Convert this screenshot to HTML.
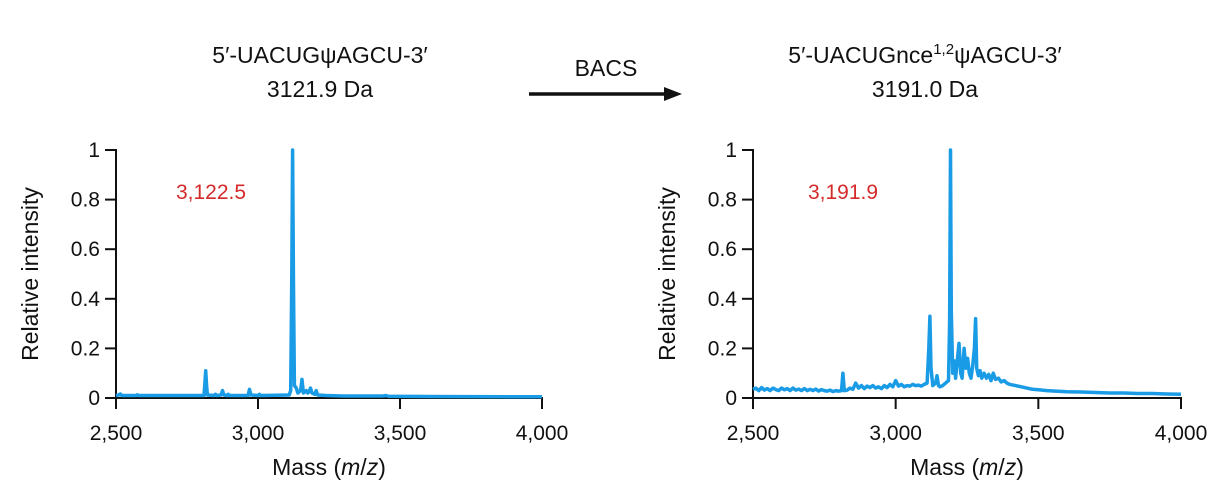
<!DOCTYPE html>
<html><head><meta charset="utf-8"><style>
body{margin:0;background:#fff;}
svg{display:block;font-family:"Liberation Sans",sans-serif;}
</style></head><body>
<svg id="fig" width="1229" height="498" viewBox="0 0 1229 498">
<g font-size="23" fill="#111" text-anchor="middle">
 <text x="320" y="63">5′-UACUGψAGCU-3′</text>
 <text x="320" y="97">3121.9 Da</text>
 <text x="606" y="76">BACS</text>
 <line x1="529" y1="94" x2="668" y2="94" stroke="#111" stroke-width="3.5"/>
 <polygon points="682,94 664,87 664,101" fill="#111"/>
 <text x="925" y="63">5′-UACUGnce<tspan font-size="15" dy="-9">1,2</tspan><tspan dy="9">ψAGCU-3′</tspan></text>
 <text x="925" y="97">3191.0 Da</text>
</g>
<g id="left"></g>
<g id="right"></g>
</svg>
<script>
const xTicks=[2500,3000,3500,4000];
const xTickLabels=["2,500","3,000","3,500","4,000"];
const yTicks=[0,0.2,0.4,0.6,0.8,1];
const yTickLabels=["0","0.2","0.4","0.6","0.8","1"];
const leftMz=[2500,2510,2515,2520,2570,2575,2580,2700,2810,2813,2816,2819,2822,2845,2850,2855,2870,2875,2880,2890,2895,2900,2965,2970,2975,3000,3005,3010,3110,3115,3119,3122,3125,3128,3135,3140,3150,3155,3160,3170,3175,3180,3185,3190,3200,3205,3210,3240,3300,3440,3450,3460,3600,4000];
const leftInt=[0.01,0.012,0.016,0.01,0.01,0.013,0.01,0.01,0.01,0.06,0.11,0.05,0.012,0.01,0.015,0.01,0.012,0.03,0.012,0.01,0.015,0.01,0.01,0.035,0.012,0.01,0.015,0.01,0.012,0.03,0.5,1.0,0.45,0.05,0.04,0.02,0.03,0.075,0.02,0.03,0.02,0.025,0.04,0.02,0.015,0.03,0.012,0.01,0.008,0.008,0.01,0.007,0.006,0.005];
const rightMz=[
 2500,2510,2520,2530,2540,2550,2560,2570,2580,2590,
 2600,2610,2620,2630,2640,2650,2660,2670,2680,2690,
 2700,2710,2720,2730,2740,2750,2760,2770,2780,2790,
 2800,2810,2815,2820,2830,2840,2850,2860,2870,2880,
 2890,2900,2910,2920,2930,2940,2950,2960,2970,2980,
 2990,3000,3010,3020,3030,3040,3050,3060,3070,3080,
 3090,3100,3110,3116,3120,3124,3130,3140,3145,3150,
 3155,3165,3175,3185,3189,3192,3195,3200,3205,3210,
 3215,3222,3228,3233,3240,3246,3252,3258,3264,3270,
 3276,3280,3284,3290,3296,3302,3310,3318,3326,3334,
 3342,3350,3360,3370,3380,3390,3400,3420,3440,3460,
 3480,3500,3530,3560,3600,3650,3700,3750,3800,3850,
 3900,3950,4000];
const rightInt=[
 0.035,0.04,0.03,0.042,0.032,0.038,0.03,0.04,0.034,0.03,
 0.04,0.033,0.038,0.03,0.04,0.032,0.036,0.03,0.038,0.03,
 0.035,0.03,0.036,0.028,0.034,0.03,0.028,0.032,0.026,0.03,
 0.028,0.03,0.1,0.03,0.032,0.04,0.035,0.06,0.04,0.05,
 0.038,0.048,0.042,0.05,0.04,0.045,0.038,0.05,0.042,0.055,
 0.045,0.07,0.048,0.055,0.045,0.05,0.048,0.055,0.05,0.052,
 0.048,0.055,0.06,0.2,0.33,0.12,0.05,0.06,0.09,0.05,
 0.045,0.05,0.06,0.07,0.3,1.0,0.35,0.1,0.15,0.08,
 0.14,0.22,0.1,0.08,0.2,0.12,0.16,0.1,0.08,0.13,
 0.2,0.32,0.12,0.09,0.11,0.08,0.1,0.08,0.095,0.07,
 0.1,0.075,0.08,0.065,0.07,0.06,0.055,0.05,0.045,0.04,
 0.035,0.033,0.03,0.028,0.025,0.024,0.022,0.02,0.02,0.018,
 0.018,0.016,0.015];
const NS="http://www.w3.org/2000/svg";
function mk(tag,attrs,parent){const e=document.createElementNS(NS,tag);for(const k in attrs)e.setAttribute(k,attrs[k]);parent.appendChild(e);return e;}
function chart(gid,x0,x1,mz,inten,label,labelX){
 const g=document.getElementById(gid);
 const y0=398,y1=150;
 const sx=v=>x0+(v-2500)/1500*(x1-x0);
 const sy=v=>y0-v*(y0-y1);
 let d=mz.map((m,i)=>(i?"L":"M")+sx(m).toFixed(1)+","+sy(inten[i]).toFixed(1)).join("");
 const ax=mk("path",{d:`M${x0-11},${y1}H${x0}V${y0}H${x1}V${y0+11}`,fill:"none",stroke:"#111","stroke-width":2},g);
 
 
 yTicks.forEach((t,i)=>{
  const l=mk("line",{x1:x0-11,x2:x0,y1:sy(t),y2:sy(t),stroke:"#111","stroke-width":2},g);
  
  
  const tx=mk("text",{x:x0-16,y:sy(t)+7,"font-size":21,"text-anchor":"end",fill:"#111"},g);
  tx.textContent=yTickLabels[i];
  
  
 });
 xTicks.forEach((t,i)=>{
  const l=mk("line",{x1:sx(t),x2:sx(t),y1:y0,y2:y0+11,stroke:"#111","stroke-width":2},g);
  
  
  const tx=mk("text",{x:sx(t),y:y0+42,"font-size":21,"text-anchor":"middle",fill:"#111"},g);
  tx.textContent=xTickLabels[i];
  
  
 });
 const p=mk("path",{d:d,fill:"none",stroke:"#1a9be6","stroke-width":3.5,"stroke-linejoin":"round"},g);
 
 
 const yt=mk("text",{x:0,y:0,"font-size":23,"text-anchor":"middle",fill:"#111",transform:`translate(${x0-78},${(y0+y1)/2}) rotate(-90)`},g);
 yt.textContent="Relative intensity";
 
 
 const xt=mk("text",{x:(x0+x1)/2,y:475,"font-size":23,"text-anchor":"middle",fill:"#111"},g);
 xt.innerHTML='Mass (<tspan font-style="italic">m</tspan>/<tspan font-style="italic">z</tspan>)';
 
 
 const pl=mk("text",{x:labelX,y:199,"font-size":21,"text-anchor":"middle",fill:"#d42a2a"},g);
 pl.textContent=label;
 
 
}
chart("left",116,542,leftMz,leftInt,"3,122.5",211);
chart("right",753,1181,rightMz,rightInt,"3,191.9",843);
</script>
</body></html>
